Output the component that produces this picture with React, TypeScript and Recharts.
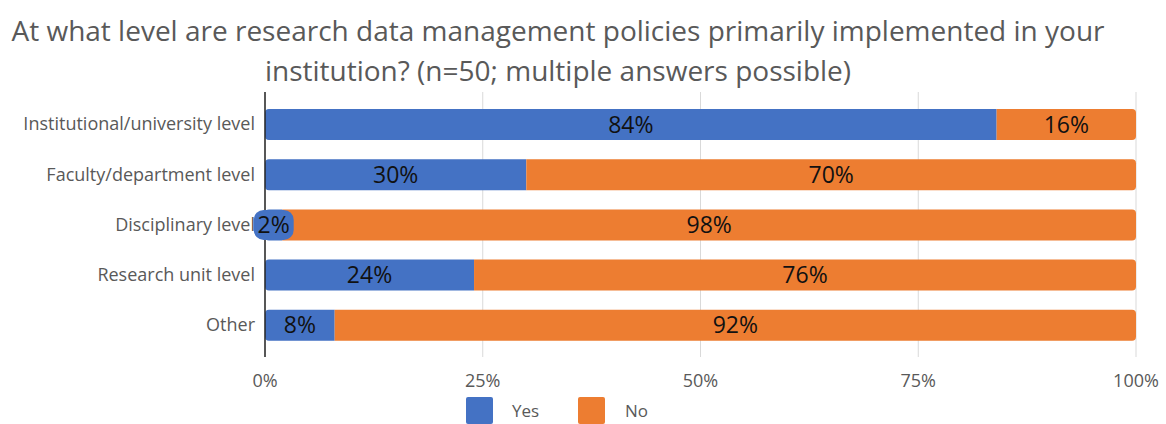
import React from "react";
import { Bar, BarChart, CartesianGrid, LabelList, XAxis, YAxis } from "recharts";

const categories = [
  "Institutional/university level",
  "Faculty/department level",
  "Disciplinary level",
  "Research unit level",
  "Other",
];
const yesValues = [84, 30, 2, 24, 8];
const noValues = [16, 70, 98, 76, 92];
const xTicks = [0, 25, 50, 75, 100];

const BLUE = "#4472C4";
const ORANGE = "#ED7D31";
const GREY = "#595959";
const FONT = "'Open Sans', sans-serif";

const data = categories.map((name, i) => ({ name, yes: yesValues[i], no: noValues[i] }));

// Excel puts a coloured blob behind labels that don't fit inside the bar
function YesLabel(props: any) {
  const { x, y, width, height, value } = props;
  const cx = x + width / 2;
  const cy = y + height / 2;
  const small = width < 40;
  return (
    <g>
      {small && <rect x={cx - 20} y={cy - 15} width={40} height={30} rx={10} fill={BLUE} />}
      <text x={cx} y={cy} dy="0.35em" textAnchor="middle" fontSize={23} fontFamily={FONT} fill="#111">
        {value}%
      </text>
    </g>
  );
}

function NoLabel(props: any) {
  const { x, y, width, height, value } = props;
  return (
    <text x={x + width / 2} y={y + height / 2} dy="0.35em" textAnchor="middle" fontSize={23} fontFamily={FONT} fill="#111">
      {value}%
    </text>
  );
}

export default function App() {
  return (
    <div style={{ position: "absolute", left: 0, top: 0, width: 1166, height: 424, background: "#fff", fontFamily: FONT, overflow: "hidden" }}>
      <div
        style={{
          position: "absolute",
          top: 10,
          left: 0,
          width: 1116,
          textAlign: "center",
          fontSize: 28,
          lineHeight: "40px",
          color: GREY,
          whiteSpace: "nowrap",
        }}
      >
        At what level are research data management policies primarily implemented in your
        <br />
        institution? (n=50; multiple answers possible)
      </div>
      <div style={{ position: "absolute", left: 0, top: 0 }}>
        <BarChart
          width={1166}
          height={424}
          data={data}
          layout="vertical"
          margin={{ top: 92, right: 30, bottom: 37, left: 0 }}
          barSize={31}
        >
          <CartesianGrid horizontal={false} stroke="#d9d9d9" />
          <XAxis
            type="number"
            domain={[0, 100]}
            ticks={xTicks}
            tickFormatter={(v) => `${v}%`}
            axisLine={false}
            tickLine={false}
            tickSize={0}
            tickMargin={17}
            height={30}
            tick={{ fill: GREY, fontSize: 18, fontFamily: FONT }}
          />
          <YAxis
            type="category"
            dataKey="name"
            width={265}
            padding={{ top: 7, bottom: 7 }}
            axisLine={{ stroke: "#262626", strokeWidth: 1.5 }}
            tickLine={false}
            tickSize={0}
            tickMargin={10}
            tick={{ fill: GREY, fontSize: 18, fontFamily: FONT }}
          />
          <Bar dataKey="yes" stackId="a" fill={BLUE} radius={[4, 0, 0, 4]} isAnimationActive={false}>
            <LabelList dataKey="yes" content={YesLabel} />
          </Bar>
          <Bar dataKey="no" stackId="a" fill={ORANGE} radius={[0, 4, 4, 0]} isAnimationActive={false}>
            <LabelList dataKey="no" content={NoLabel} />
          </Bar>
        </BarChart>
      </div>
      <div style={{ position: "absolute", top: 397, left: 466, display: "flex", alignItems: "center", fontSize: 17, color: GREY }}>
        <span style={{ width: 27, height: 27, background: BLUE, borderRadius: 2, display: "inline-block" }} />
        <span style={{ marginLeft: 19, width: 66 }}>Yes</span>
        <span style={{ width: 27, height: 27, background: ORANGE, borderRadius: 2, display: "inline-block" }} />
        <span style={{ marginLeft: 20 }}>No</span>
      </div>
    </div>
  );
}
